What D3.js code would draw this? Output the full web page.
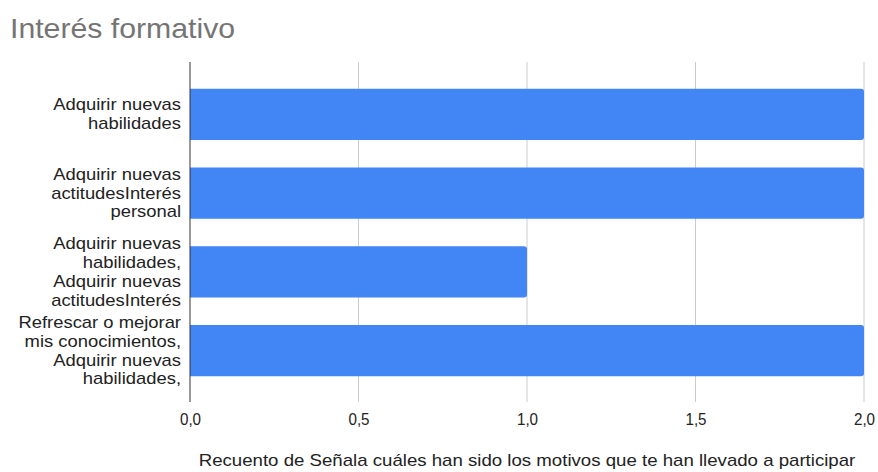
<!DOCTYPE html>
<html><head><meta charset="utf-8">
<script src="https://cdn.jsdelivr.net/npm/d3@7"></script>
<style>body{margin:0;background:#fff}svg{display:block}</style>
</head><body>
<svg id="c" width="878" height="472"></svg>
<script>
const title = "Interés formativo";
const categories = [
  ["Adquirir nuevas", "habilidades"],
  ["Adquirir nuevas", "actitudesInterés", "personal"],
  ["Adquirir nuevas", "habilidades,", "Adquirir nuevas", "actitudesInterés"],
  ["Refrescar o mejorar", "mis conocimientos,", "Adquirir nuevas", "habilidades,"]
];
const values = [2, 2, 1, 2];
const xTicks = [0, 0.5, 1, 1.5, 2];
const xTickLabels = ["0,0", "0,5", "1,0", "1,5", "2,0"];
const xAxisTitle = "Recuento de Señala cuáles han sido los motivos que te han llevado a participar";

const svg = d3.select("#c");
const font = "'Liberation Sans', Arial, sans-serif";
const plot = {left: 190, right: 864, top: 62, bottom: 402};

const x = d3.scaleLinear().domain([0, 2]).range([plot.left, plot.right]);
const idx = categories.map((d, i) => i);
const y = d3.scaleBand().domain(idx).range([75, 390]).paddingInner(0.35).paddingOuter(0.175);

function stretchedText(parent, tx, ty, sx, size, fill, anchor) {
  return parent.append("text")
    .attr("transform", `translate(${tx},${ty}) scale(${sx},1)`)
    .attr("font-family", font).attr("font-size", size).attr("fill", fill)
    .attr("text-anchor", anchor);
}

stretchedText(svg, 10, 38, 1.08, 28, "#757575", "start").text(title);

// gridlines
svg.append("g").selectAll("line").data(xTicks.filter(t => t !== 0)).join("line")
  .attr("x1", d => x(d)).attr("x2", d => x(d))
  .attr("y1", plot.top).attr("y2", plot.bottom)
  .attr("stroke", "#cccccc").attr("stroke-width", 1);

// bars with rounded right corners
const r = 3;
svg.append("g").selectAll("path").data(values).join("path")
  .attr("d", (v, i) => {
    const x0 = x(0), x1 = x(v), y0 = y(i), h = y.bandwidth();
    return `M${x0},${y0}H${x1 - r}Q${x1},${y0} ${x1},${y0 + r}V${y0 + h - r}Q${x1},${y0 + h} ${x1 - r},${y0 + h}H${x0}Z`;
  })
  .attr("fill", "#4285f4");

// zero axis line
svg.append("line").attr("x1", x(0)).attr("x2", x(0))
  .attr("y1", plot.top).attr("y2", plot.bottom)
  .attr("stroke", "#333").attr("stroke-width", 1);

// x tick labels
const xAxis = d3.axisBottom(x).tickValues(xTicks).tickSize(0)
  .tickFormat((d, i) => xTickLabels[i]);
const gx = svg.append("g").attr("transform", `translate(0,${plot.bottom})`).call(xAxis);
gx.select(".domain").remove();
gx.selectAll(".tick text").attr("font-family", font).attr("font-size", 16).attr("fill", "#222")
  .attr("y", 0).attr("dy", 0)
  .attr("transform", "translate(0,23) scale(0.95,1)");

// y category labels
const lineH = 18.8;
const gy = svg.append("g");
categories.forEach((lines, i) => {
  const cy = y(i) + y.bandwidth() / 2;
  const startY = cy - (lines.length - 1) * lineH / 2;
  lines.forEach((ln, j) => {
    stretchedText(gy, 181, startY + j * lineH + 5.5, 1.15, 16, "#222", "end").text(ln);
  });
});

stretchedText(svg, (plot.left + plot.right) / 2, 466, 1.165, 16, "#222", "middle").text(xAxisTitle);
</script>
</body></html>
